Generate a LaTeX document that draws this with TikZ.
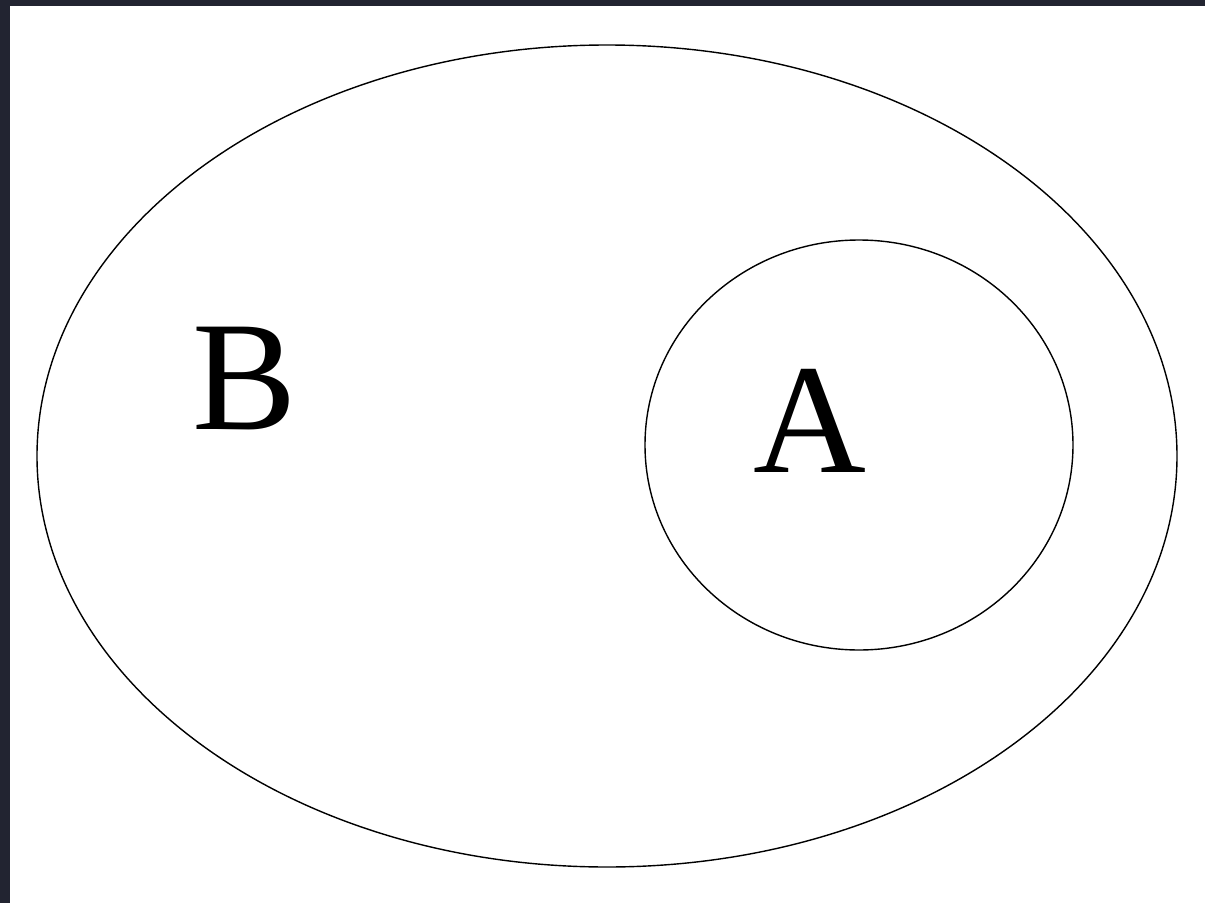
\documentclass[tikz,border=0pt]{standalone}
\usepackage{fontspec}
\setmainfont{Liberation Serif}
\usepackage{tikz}
\definecolor{frame}{HTML}{222431}

\begin{document}
\begin{tikzpicture}[x=0.02cm, y=-0.02cm]
\fill[frame] (0,0) rectangle (1205,903);
\fill[white] (10,6) rectangle (1205,903);
\useasboundingbox (0,0) rectangle (1205,903);
\draw[line width=0.8pt] (607,456) ellipse [x radius=570, y radius=411];
\draw[line width=0.8pt] (859,445) ellipse [x radius=214, y radius=205];
\node[anchor=base, inner sep=0pt, font=\fontsize{89}{89}\selectfont] (labB) at (245,429) {B};
\node[anchor=base, inner sep=0pt, font=\fontsize{89}{89}\selectfont] (labA) at (810,472) {A};
\end{tikzpicture}
\end{document}
